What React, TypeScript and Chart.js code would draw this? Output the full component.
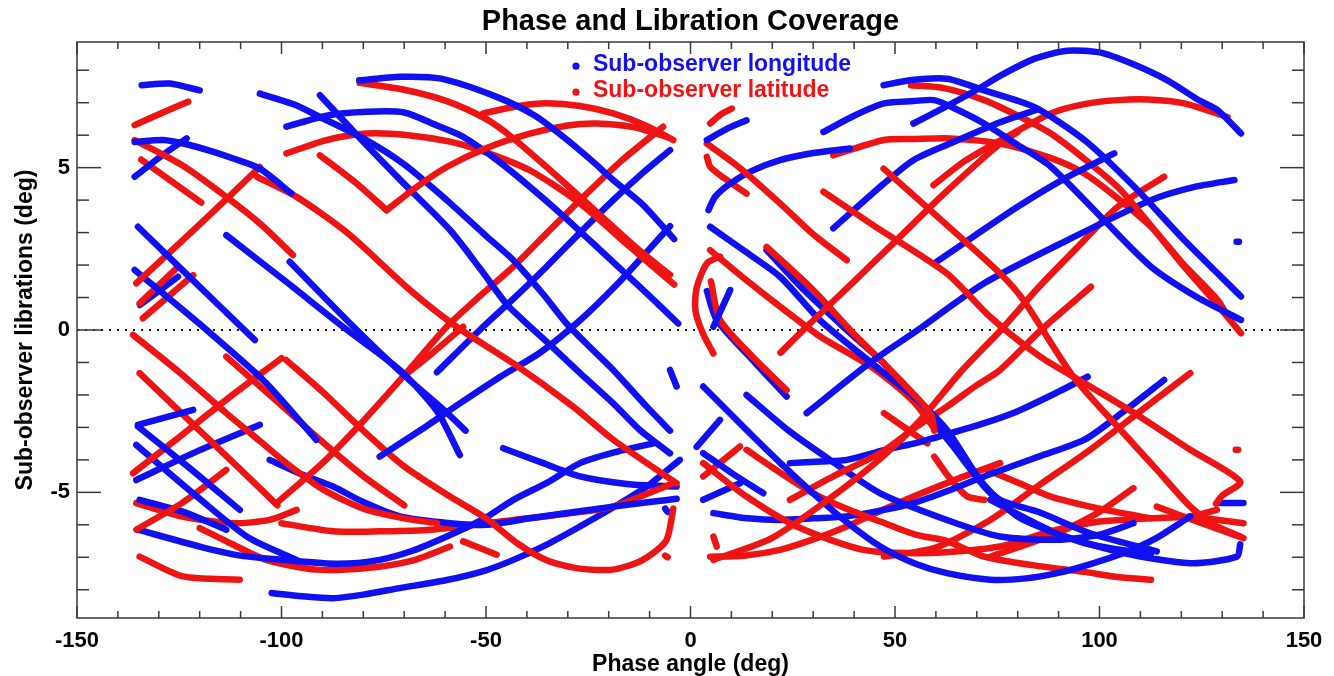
import React, { useEffect, useRef } from "react";
import { Chart, registerables } from "chart.js";

Chart.register(...registerables);

const FONT = '"Liberation Sans", Arial, Helvetica, sans-serif';
const BLUE = "rgb(16,16,240)";
const RED = "rgb(238,20,20)";

const titleText = "Phase and Libration Coverage";
const xAxisTitle = "Phase angle (deg)";
const yAxisTitle = "Sub-observer librations (deg)";
const legendLabels = ["Sub-observer longitude", "Sub-observer latitude"];

const xTickValues = [-150, -100, -50, 0, 50, 100, 150];
const xMinorTickValues = [-140, -130, -120, -110, -90, -80, -70, -60, -40, -30, -20, -10, 10, 20, 30, 40, 60, 70, 80, 90, 110, 120, 130, 140];
const yTickValues = [-5, 0, 5];
const yMinorTickValues = [-8, -7, -6, -4, -3, -2, -1, 1, 2, 3, 4, 6, 7, 8];
const xRange = [-150, 150];
const yRange = [-8.87, 8.87];

// Sub-observer longitude, negative phase angles
const leftBlue: number[][][] = [
  [[-134.2, 7.54], [-127.3, 7.59], [-120, 7.38]],
  [[-135.9, 5.79], [-129, 5.85], [-123.2, 5.72], [-117, 5.5], [-111.8, 5.28], [-105.3, 4.97], [-97.6, 4.21]],
  [[-135.9, 4.72], [-129.5, 5.35], [-123.2, 5.9]],
  [[-135.1, 3.18], [-121, 1.45], [-106.5, -0.31]],
  [[-135.9, 1.85], [-118.3, 0], [-104, -1.6], [-91.5, -3.38]],
  [[-134.6, 0.77], [-125.3, 1.64]],
  [[-113.5, 2.92], [-99, 1.5], [-85, 0.1], [-71.1, -1.23], [-62, -2.5], [-56.4, -3.85]],
  [[-98, 2.1], [-84, 0.3], [-70, -1.4], [-60, -2.5], [-55, -3.1]],
  [[-81, 7.69], [-71, 7.8], [-61, 7.74], [-47.4, 7.18], [-38, 6.6], [-31.1, 5.95], [-24, 5.2], [-18.9, 4.62], [-12, 3.9], [-6.7, 3.18], [-4, 2.8]],
  [[-98.8, 6.26], [-89, 6.6], [-79.2, 6.72], [-70, 6.7], [-62, 6.3], [-55.6, 5.95], [-47, 5.2], [-39.3, 4.41], [-31, 3.5], [-22.9, 2.56], [-10.7, 1.13], [-3, 0.2]],
  [[-105.3, 7.28], [-97, 6.95], [-90.6, 6.56], [-80, 5.9], [-70, 5.1], [-59.6, 4.0], [-50, 2.9], [-43.3, 2.15], [-36, 1.1], [-30.3, 0.2], [-24, -0.6], [-18.9, -1.23], [-10.7, -2.36], [-5, -3.1]],
  [[-90.6, 7.23], [-80, 5.8], [-70, 4.5], [-58.8, 3.08], [-51.5, 1.9], [-45, 0.8], [-40.9, 0.3], [-34, -0.5], [-27, -1.33], [-18.9, -2.26], [-12.4, -3.08], [-5, -3.8]],
  [[-62, -1.3], [-50.7, 0.1], [-43, 1.0], [-35.2, 1.95], [-27, 3.0], [-18.9, 4.0], [-12, 4.8], [-5, 5.54]],
  [[-76, -3.9], [-65, -3.0], [-56.4, -2.26], [-46, -1.4], [-36.8, -0.7], [-27, 0.3], [-18, 1.4], [-10, 2.5], [-5, 3.2]],
  [[-135.1, -2.92], [-121.6, -2.46]],
  [[-135.1, -2.97], [-122, -4.3], [-110.2, -5.54]],
  [[-135.5, -3.54], [-120, -5.2], [-108, -6.4], [-96.3, -7.08]],
  [[-135.5, -4.62], [-120, -3.7], [-105.3, -2.92]],
  [[-134.7, -5.23], [-124, -5.6], [-113.5, -6.15]],
  [[-135.1, -6.15], [-120, -6.67], [-110, -6.95], [-99.6, -7.08], [-86, -7.2], [-76, -7.08], [-68, -6.8], [-59.6, -6.36], [-51, -5.85], [-43.3, -5.23], [-35, -4.7], [-27, -4.1], [-18, -3.75], [-9.1, -3.49]],
  [[-102.9, -4], [-95, -4.45], [-87.4, -4.82], [-80, -5.3], [-71.1, -5.74], [-58.8, -5.95], [-50, -6.0], [-39.3, -5.8], [-28, -5.6], [-18.9, -5.44], [-10, -5.3], [-3.4, -5.2]],
  [[-102.4, -8.1], [-95, -8.2], [-87.4, -8.26], [-80, -8.15], [-71.1, -7.95], [-59.6, -7.7], [-50, -7.4], [-43.3, -7.08], [-35, -6.6], [-27, -6.05], [-18, -5.4], [-10.7, -4.82], [-2.6, -4.0]],
  [[-45.8, -3.64], [-36, -4.1], [-27, -4.51], [-15, -4.75], [-3.4, -4.82]],
  [[-5, -1.23], [-3.4, -1.74]],
  [[-6.2, -5.5], [-5.6, -5.6]],
];

// Sub-observer latitude, negative phase angles
const leftRed: number[][][] = [
  [[-135.9, 6.31], [-129, 6.7], [-122.8, 7.03]],
  [[-135.9, 5.85], [-124, 5.05], [-113.5, 4.1], [-105, 3.25], [-97.2, 2.31]],
  [[-134.3, 5.25], [-119.6, 3.92]],
  [[-135.5, 1.44], [-120, 3.25], [-105.3, 5.02]],
  [[-134.7, 0.82], [-125.7, 1.9]],
  [[-133.9, 0.36], [-121.6, 1.69]],
  [[-106, 4.72], [-96.3, 4.1], [-84, 3.0], [-68.6, 1.23], [-57.2, 0.1], [-43.3, -1.03], [-28.7, -2.36], [-18.9, -3.38], [-3.4, -4.72]],
  [[-90.6, 5.38], [-82, 4.55], [-74.3, 3.69]],
  [[-74.3, 3.69], [-67, 4.4], [-59.6, 5.02], [-50, 5.6], [-39.3, 6.05], [-30, 6.3], [-22.9, 6.36], [-14, 6.25], [-5.8, 5.95]],
  [[-50.7, 6.67], [-42, 6.9], [-35.2, 6.98], [-27, 6.9], [-18.9, 6.67], [-11, 6.3], [-4.2, 5.85]],
  [[-98.8, 5.44], [-89, 5.85], [-79.2, 6.05], [-69, 6.0], [-58.8, 5.8], [-51.5, 5.54], [-39.3, 4.92], [-27, 3.9], [-14.8, 2.56], [-4, 1.4]],
  [[-80.9, 7.61], [-70, 7.4], [-59.6, 7.05], [-50, 6.5], [-43.3, 5.9], [-35, 5.0], [-27, 4.1], [-20, 3.3], [-12, 2.4], [-5, 1.7]],
  [[-101.2, -5.33], [-90, -4.1], [-80, -2.8], [-70, -1.4], [-59.6, 0.1], [-51, 1.1], [-43.3, 1.95], [-35, 3.0], [-27, 4.0], [-17, 5.2], [-6.7, 6.26]],
  [[-136.3, -0.15], [-125, -1.3], [-113.5, -2.56], [-105, -3.45], [-98.8, -4.1], [-90, -4.9], [-80, -5.5], [-70, -5.8], [-62, -5.95]],
  [[-134.7, -1.33], [-120, -3.1], [-110, -4.3], [-101, -5.4]],
  [[-136.3, -4.41], [-125, -3.3], [-113, -2.1], [-100, -0.87]],
  [[-98.9, -0.92], [-90, -1.9], [-80, -3.1], [-70, -4.2], [-58.8, -5.13], [-50, -5.8], [-42, -6.6], [-35, -7.1], [-27, -7.35], [-19, -7.38], [-12, -7.1], [-6, -6.5], [-4.2, -5.5]],
  [[-135.5, -6.15], [-124, -5.3], [-113.5, -4.31]],
  [[-135.5, -5.33], [-124, -5.75], [-111.8, -5.95], [-103, -5.85], [-96.3, -5.54]],
  [[-120, -6.1], [-112, -6.6], [-103.7, -7.08], [-91.5, -7.38], [-79.2, -7.33], [-68, -7.1], [-58.8, -6.67]],
  [[-100, -5.95], [-87.4, -6.2], [-76, -6.2], [-63.7, -6.15], [-43.3, -5.85], [-30, -5.65], [-18.9, -5.44], [-4.2, -4.72]],
  [[-55.6, -6.51], [-47.4, -6.92]],
  [[-134.7, -6.98], [-124.1, -7.59], [-110.2, -7.69]],
  [[-70.3, -1.44], [-63, -0.7], [-55.6, 0.1]],
  [[-113.5, -0.82], [-102, -2.1], [-90.6, -3.38], [-80, -4.5], [-70, -5.4]],
  [[-6.2, -6.95], [-5.6, -7.0]],
];

// Sub-observer longitude, positive phase angles
const rightBlue: number[][][] = [
  [[4, 5.85], [9, 6.2], [13.7, 6.46]],
  [[4.4, 3.69], [6, 4.1], [9.7, 4.51], [15, 4.9], [21.9, 5.23], [30, 5.45], [39, 5.59]],
  [[54.5, 6.36], [62, 6.85], [70, 7.4], [76, 7.85], [84, 8.35], [92, 8.6], [100, 8.55], [108, 8.2], [116.6, 7.69], [124, 7.1], [128.9, 6.77], [134.6, 6.05]],
  [[47.2, 7.54], [54, 7.7], [62.7, 7.74], [71.8, 7.38], [84, 6.87], [96.3, 5.85], [108.5, 4.41], [120.7, 2.77], [134.6, 1.03]],
  [[32.5, 6.1], [40, 6.6], [47.3, 6.98], [54.5, 7.05], [59.6, 7.08], [65, 6.8], [71.8, 6.36], [80, 5.7], [88.1, 5.03], [100.3, 3.49], [112.6, 1.95], [124, 1.0], [134.6, 0.31]],
  [[34.9, 3.13], [47.3, 4.51], [54.5, 5.23], [63.6, 5.75], [75.7, 6.4], [85, 6.8]],
  [[59.6, 2.05], [70, 2.95], [79.9, 3.79], [92, 4.7], [103.6, 5.44]],
  [[28.4, -2.56], [44, -1.0], [55, -0.05], [71.8, 1.44], [92.2, 2.77], [112.6, 4.0], [123, 4.4], [133, 4.62]],
  [[133.5, 2.72], [134.1, 2.72]],
  [[4.8, 3.18], [13, 2.45], [21.9, 1.64], [31.7, 0.3], [46.4, -1.23], [55, -2.1], [62.7, -3.08], [70.8, -4.62], [75.7, -5.23], [85, -5.6], [97.7, -6.26], [114, -6.82]],
  [[18.6, 2.46], [28, 1.2], [38.2, 0], [47.3, -1.03], [55.5, -2.26], [63.6, -3.49], [71.8, -4.82], [79.9, -5.74], [88, -6.2], [96.3, -6.56], [104, -6.75], [112.6, -6.87]],
  [[5.6, 0.1], [9.7, 1.23]],
  [[4, 1.2], [6.4, 0.31], [15, -0.9], [23.5, -2.05]],
  [[3.1, -1.74], [13.7, -3.08], [22, -4.1], [30, -5.03], [38, -5.9], [46.4, -6.67], [55, -7.2], [62.7, -7.49], [73.3, -7.69], [82, -7.65], [89.6, -7.49], [98, -7.2], [105.9, -6.87], [114, -6.4], [122.2, -5.74]],
  [[13.7, -2.0], [24, -3.1], [34.1, -4.0], [46.4, -5.03], [62.7, -5.85], [75.7, -6.36], [89.6, -6.46], [100, -6.3], [108.3, -5.95]],
  [[24.3, -4.1], [32, -4.05], [38.2, -4.0], [47.3, -3.7], [54.5, -3.5], [63, -3.2], [71.8, -2.87], [80, -2.5], [90, -1.9], [97.1, -1.44]],
  [[5.6, -5.64], [14, -5.8], [21.9, -5.85], [30, -5.8], [38.2, -5.74], [47.3, -5.54], [54.5, -5.33], [63, -4.95], [71.8, -4.51], [84, -3.95], [96.3, -3.38], [106, -2.5], [115.8, -1.54]],
  [[1.5, -3.6], [7.2, -2.77]],
  [[3.1, -3.79], [10, -4.4], [17.8, -5.03]],
  [[3.1, -5.23], [12.1, -4.72]],
  [[73.3, -5.23], [89.6, -6.26], [105.9, -6.87], [122.2, -7.18], [133.6, -6.98], [134.4, -6.6]],
  [[128.7, -5.33], [135.2, -5.33]],
];

// Sub-observer latitude, positive phase angles
const rightRed: number[][][] = [
  [[4.8, 6.36], [7.5, 6.65], [10.1, 6.82]],
  [[4, 5.74], [12, 5.0], [21.9, 3.9], [30, 2.95], [38.2, 2.15]],
  [[4, 5.33], [4.8, 5.03], [8, 4.7], [13.7, 4.2]],
  [[32.5, 4.26], [45, 3.2], [62.7, 1.74], [73.3, 0.4], [85.5, -0.82], [97.7, -1.74], [109.9, -2.67], [122.2, -3.69], [134.4, -4.67], [130, -5.1], [128.5, -5.35]],
  [[47.2, 4.97], [58.6, 3.69], [75.7, 1.74], [81.4, 0.92], [93.6, -1.44], [105.9, -3.18], [114, -4.3], [122.2, -5.44], [128, -6.0], [134.4, -6.36]],
  [[22, -0.7], [28.4, 0.1], [40, 1.5], [50.4, 2.77], [62, 4.2], [75.7, 5.74], [80, 6.1]],
  [[59.4, 4.46], [67, 5.2], [75.9, 5.85], [88.1, 6.67], [96, 6.95], [104.4, 7.08], [112, 7.1], [120.7, 6.98], [131.3, 6.56]],
  [[53.9, 7.54], [62, 7.45], [71.8, 7.08], [80, 6.6], [88.1, 6.05], [96, 5.3], [104.4, 4.41], [112, 3.3], [120.7, 1.95], [128, 0.9], [134.6, -0.1]],
  [[34.9, 5.38], [47.3, 5.85], [54.5, 5.88], [63.6, 5.9], [75.7, 5.74], [88, 5.3], [96.3, 4.82], [104, 4.1], [112.6, 3.18], [120, 2.1], [128.9, 0.92], [131, 0.5]],
  [[18.6, 2.56], [30, 1.23], [39.8, -0.1], [47.3, -1.03], [54, -1.9], [58.8, -2.6], [59.6, -3.1]],
  [[4.8, 2.46], [13, 1.6], [21.9, 0.72], [31.7, -0.2], [45, -1.2], [54.5, -2.2], [59.4, -3.0]],
  [[7.2, 2.26], [4, 2.05], [1.5, 1.3], [1.2, 0.6], [3, -0.1], [5.6, -0.72]],
  [[5, 1.5], [7.2, 0.31], [15, -0.8], [23.5, -1.85]],
  [[5.6, -7.08], [20, -6.4], [35, -5.1], [47, -3.9], [56, -2.8], [66, -1.3], [75.9, 0], [85, 1.3], [95, 2.6], [104.4, 3.79], [115.8, 4.72]],
  [[24.3, -5.23], [35, -4.5], [46.4, -3.79], [55, -3.0], [62.7, -2.36], [70, -1.7], [75.7, -1.23], [85.7, 0], [97.9, 1.33]],
  [[13.7, -3.69], [22, -4.4], [30, -5.03], [38, -5.5], [46.4, -5.9], [55, -6.3], [62.7, -6.5], [71.8, -6.98], [84, -7.25], [96.3, -7.45], [104, -7.6], [112.6, -7.69]],
  [[3.1, -4.1], [13.7, -5.13], [26, -6.05], [42.3, -6.77], [58.6, -6.87], [75.7, -6.67], [88, -6.2], [100, -5.9], [112.6, -5.8], [122.2, -5.74], [128.7, -5.54]],
  [[4.8, -6.98], [13, -6.95], [21.9, -6.77], [30, -6.45], [38.2, -6.05], [46, -5.6], [54.5, -5.13], [65, -4.6], [75.7, -4.1]],
  [[47.3, -6.98], [60, -6.7], [73.3, -5.85], [85, -4.8], [97.7, -3.69], [110, -2.5], [122.2, -1.33]],
  [[73.3, -6.98], [80, -6.7], [89.6, -6.26], [100, -5.6], [108.3, -4.87]],
  [[72.6, -4.31], [80, -4.7], [88.1, -5.13], [100, -5.5], [112.6, -5.8]],
  [[59.6, -3.9], [63, -4.5], [67.7, -5.13], [71.8, -5.23]],
  [[47.3, -2.56], [57.9, -3.49]],
  [[5.6, -6.36], [6.4, -6.67]],
  [[3.1, -4.51], [12.1, -3.59]],
  [[122.2, -5.74], [135.2, -5.95]],
  [[114, -5.44], [125, -5.95], [135.2, -6.41]],
  [[133.3, -3.69], [133.9, -3.69]],
];

const zeroLine = [[-150, 0], [150, 0]];

function segDataset(seg: number[][], color: string) {
  return {
    data: seg.map(([x, y]) => ({ x, y })),
    borderColor: color,
    backgroundColor: color,
    borderWidth: 6.5,
    pointRadius: 0,
    pointHoverRadius: 0,
    tension: 0.25,
    borderCapStyle: "round",
    borderJoinStyle: "round",
    fill: false,
    order: 0,
  };
}

const decorPlugin = {
  id: "decor",
  afterDraw(chart: any) {
    const { ctx, chartArea, scales } = chart;
    const { left, right, top, bottom } = chartArea;
    const xs = scales.x;
    const ys = scales.y;
    ctx.save();
    ctx.strokeStyle = "#3a3a3a";
    ctx.lineWidth = 1.5;
    ctx.strokeRect(left, top, right - left, bottom - top);
    const seg = (x1: number, y1: number, x2: number, y2: number) => {
      ctx.beginPath();
      ctx.moveTo(x1, y1);
      ctx.lineTo(x2, y2);
      ctx.stroke();
    };
    for (const v of xTickValues) {
      const p = xs.getPixelForValue(v);
      seg(p, bottom, p, bottom - 12);
      seg(p, top, p, top + 12);
    }
    for (const v of xMinorTickValues) {
      const p = xs.getPixelForValue(v);
      seg(p, bottom, p, bottom - 7);
      seg(p, top, p, top + 7);
    }
    for (const v of yTickValues) {
      const p = ys.getPixelForValue(v);
      seg(left, p, left + 24, p);
      seg(right, p, right - 24, p);
    }
    for (const v of yMinorTickValues) {
      const p = ys.getPixelForValue(v);
      seg(left, p, left + 12, p);
      seg(right, p, right - 12, p);
    }
    // title
    ctx.fillStyle = "#000";
    ctx.font = `bold 29px ${FONT}`;
    ctx.textAlign = "center";
    ctx.textBaseline = "alphabetic";
    ctx.fillText(titleText, (left + right) / 2, 29.5);
    // legend
    const lx = xs.getPixelForValue(-28.0);
    const colors = [BLUE, RED];
    const baselines = [70.7, 96.7];
    ctx.font = `bold 23px ${FONT}`;
    ctx.textAlign = "left";
    legendLabels.forEach((label, i) => {
      ctx.fillStyle = colors[i];
      ctx.beginPath();
      ctx.arc(lx, baselines[i] - 4.5, 3.6, 0, Math.PI * 2);
      ctx.fill();
      ctx.fillText(label, lx + 17, baselines[i]);
    });
    ctx.restore();
  },
};

export default function App() {
  const canvasRef = useRef<HTMLCanvasElement | null>(null);

  useEffect(() => {
    const canvas = canvasRef.current;
    if (!canvas) return;
    Chart.defaults.font.family = FONT;
    const datasets: any[] = [];
    const n = Math.max(leftBlue.length, leftRed.length, rightBlue.length, rightRed.length);
    for (let i = 0; i < n; i++) {
      if (leftBlue[i]) datasets.push(segDataset(leftBlue[i], BLUE));
      if (rightRed[i]) datasets.push(segDataset(rightRed[i], RED));
      if (leftRed[i]) datasets.push(segDataset(leftRed[i], RED));
      if (rightBlue[i]) datasets.push(segDataset(rightBlue[i], BLUE));
    }
    datasets.push({
      data: zeroLine.map(([x, y]) => ({ x, y })),
      borderColor: "#111",
      borderWidth: 2,
      borderDash: [2, 6],
      pointRadius: 0,
      tension: 0,
      fill: false,
      order: 10,
    });

    const chart = new Chart(canvas, {
      type: "line",
      data: { datasets },
      options: {
        animation: false,
        responsive: false,
        devicePixelRatio: 1,
        layout: { padding: { top: 42, right: 30, bottom: 0, left: 0 } },
        plugins: {
          legend: { display: false },
          tooltip: { enabled: false },
          title: { display: false },
        },
        scales: {
          x: {
            type: "linear",
            min: xRange[0],
            max: xRange[1],
            grid: { display: false, drawTicks: false },
            border: { display: false },
            afterBuildTicks: (scale: any) => {
              scale.ticks = xTickValues.map((v) => ({ value: v }));
            },
            afterFit: (scale: any) => {
              scale.height = 58;
            },
            ticks: {
              color: "#000",
              font: { size: 22, weight: "bold", family: FONT },
              padding: 10,
              maxRotation: 0,
              autoSkip: false,
              callback: (v: any) => String(v),
            },
            title: {
              display: true,
              text: xAxisTitle,
              color: "#000",
              font: { size: 23, weight: "bold", family: FONT, lineHeight: 1 },
              padding: 0,
            },
          },
          y: {
            type: "linear",
            min: yRange[0],
            max: yRange[1],
            grid: { display: false, drawTicks: false },
            border: { display: false },
            afterBuildTicks: (scale: any) => {
              scale.ticks = yTickValues.map((v) => ({ value: v }));
            },
            afterFit: (scale: any) => {
              scale.width = 77;
            },
            ticks: {
              color: "#000",
              font: { size: 22, weight: "bold", family: FONT },
              padding: 7,
              autoSkip: false,
              callback: (v: any) => String(v),
            },
            title: {
              display: true,
              text: yAxisTitle,
              color: "#000",
              font: { size: 23, weight: "bold", family: FONT, lineHeight: 1 },
              padding: { top: 14, bottom: 0 },
            },
          },
        },
      },
      plugins: [decorPlugin],
    } as any);

    return () => chart.destroy();
  }, []);

  return (
    <div style={{ position: "absolute", left: 0, top: 0, width: 1334, height: 676, background: "#fff" }}>
      <canvas ref={canvasRef} width={1334} height={676} style={{ display: "block" }} />
    </div>
  );
}
